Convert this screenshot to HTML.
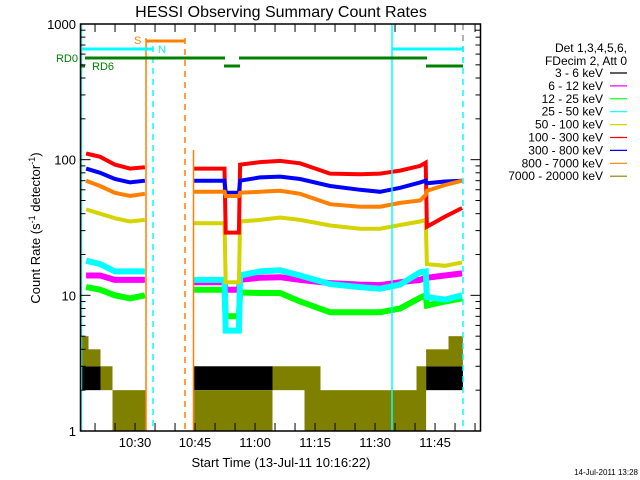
<!DOCTYPE html>
<html><head><meta charset="utf-8"><style>
body{margin:0;background:#fff;width:640px;height:480px;overflow:hidden}
svg{display:block;font-family:"Liberation Sans",sans-serif}
</style></head><body>
<svg id="c" width="640" height="480">
<text x="281" y="17" font-size="16" text-anchor="middle">HESSI Observing Summary Count Rates</text>
<text x="0" y="0" font-size="13" text-anchor="middle" transform="translate(40,228) rotate(-90)">Count Rate (s<tspan dy="-5" font-size="9">-1</tspan><tspan dy="5"> detector</tspan><tspan dy="-5" font-size="9">-1</tspan><tspan dy="5">)</tspan></text>
<text x="281" y="467" font-size="13" text-anchor="middle">Start Time (13-Jul-11 10:16:22)</text>
<text x="638" y="475" font-size="8" text-anchor="end">14-Jul-2011 13:28</text>
<g id="plot"></g>
<g id="legend"></g>
</svg>
<script>
// ---- data (minutes since 10:16:22) ----
const segA_t=[1.4,4.9,8.6,12.4,16.1];
const segB_t=[28.4,36.0,36.3,39.6,39.9,44.9,49.9,54.9,62.4,69.9,74.9,79.9,84.9,86.3,86.6,91.1,95.4];
const seriesNames=["6 - 12 keV","12 - 25 keV","25 - 50 keV","50 - 100 keV","100 - 300 keV","300 - 800 keV","800 - 7000 keV"];
const seriesColors=["#ff00ff","#00ff00","#00ffff","#d4d400","#ff0000","#0000ff","#ff8000"];
const redA=[111,105,92,86,88];
const redB=[86,86,29,29,92,96,98,94,79,78,79,83,90,95,32,38,44];
const blueA=[86,80,72,68,70];
const blueB=[70,70,57,57,70,74,75,72,64,60,58,62,68,70,67,69,70];
const orangeA=[70,64,57,54,56];
const orangeB=[58,58,54,54,57,58,59,56,47,45,45,48,50,55,59,65,70];
const yellowA=[43,40,37,35,36];
const yellowB=[34,34,12.5,12.5,35,36,37.5,36,32.7,31,31,33,35,36,17,16.5,17.5];
const cyanA=[18,17,15,15,15];
const cyanB=[13,13,5.5,5.5,14,15,15.3,14,12.1,11.5,11.2,12,14.8,15,9.7,9.3,10];
const magentaA=[14,14,13,13,13];
const magentaB=[12.5,12.5,11,11,13,13.5,13.6,13,12.3,12,11.9,12.5,13,13.5,13.5,14,14.5];
const greenA=[11.5,11,10,9.5,10];
const greenB=[11,11,7,7,10.5,10.4,10.4,9,7.5,7.5,7.5,8,9.6,10,8.4,9,9.5];
// low-count channels: bin start times and value ranges
const lowT=[0,2,5,8,12,16.4,28.4,32,36,40,44,48,52,56,60,64,68,72,76,80,84,86.4,89,92,95.6];
const blackLo=[2,2,null,null,null,null,2,2,2,2,2,null,null,null,null,null,null,null,null,null,null,2,2,2,null];
const blackHi=[3,3,null,null,null,null,3,3,3,3,3,null,null,null,null,null,null,null,null,null,null,3,3,3,null];
const oliveLo=[3,3,2,1,1,null,1,1,1,1,1,2,2,1,1,1,1,1,1,1,1,3,3,3,null];
const oliveHi=[5,4,3,2,2,null,2,2,2,2,2,3,3,3,2,2,2,2,2,2,3,4,4,5,null];
const xTickLabels=["10:30","10:45","11:00","11:15","11:30","11:45"];
const xTickMin=[13.633,28.633,43.633,58.633,73.633,88.633];
const yTickLabels=["1","10","100","1000"];
const legendLabels=["3 - 6 keV","6 - 12 keV","12 - 25 keV","25 - 50 keV","50 - 100 keV","100 - 300 keV","300 - 800 keV","800 - 7000 keV","7000 - 20000 keV"];
const legendColors=["#000000","#ff00ff","#00ff00","#00ffff","#d4d400","#ff0000","#0000ff","#ff8000","#808000"];

const X0=80.5,X1=480.5,Y0=24,Y1=431;
const xs=m=>X0+m*4;
const ys=v=>Y1-(Math.log10(v))*(Y1-Y0)/3;
const NS="http://www.w3.org/2000/svg";
const plot=document.getElementById('plot');
function mk(tag,attrs,parent){const e=document.createElementNS(NS,tag);for(const k in attrs)e.setAttribute(k,attrs[k]);(parent||plot).appendChild(e);return e;}

// low channels as filled ranges
function lowBars(lo,hi,col,name){
  for(let i=0;i<lo.length-1;i++){
    if(lo[i]==null)continue;
    const r=mk('rect',{x:xs(lowT[i]),y:ys(hi[i]),width:xs(lowT[i+1])-xs(lowT[i]),height:ys(lo[i])-ys(hi[i]),fill:col});
    
    
  }
}
lowBars(blackLo,blackHi,'#000000','series-3-6kev');
lowBars(oliveLo,oliveHi,'#808000','series-7000-20000kev');

// line series
const Aset=[magentaA,greenA,cyanA,yellowA,redA,blueA,orangeA];
const Bset=[magentaB,greenB,cyanB,yellowB,redB,blueB,orangeB];
Aset.forEach((arr,k)=>{
  [[segA_t,arr],[segB_t,Bset[k]]].forEach(([t,v],s)=>{
    let d='';
    for(let i=0;i<t.length;i++)d+=(i?'L':'M')+xs(t[i]).toFixed(1)+' '+ys(v[i]).toFixed(1);
    const p=mk('path',{d:d,fill:'none',stroke:seriesColors[k],'stroke-width':k<3?6:4});
    
    
  });
});

// event lines
function vline(x,col,dash,y0,y1,name){const l=mk('line',{x1:x,x2:x,y1:y0,y2:y1,stroke:col,'stroke-width':1.5});if(dash)l.setAttribute('stroke-dasharray','6,5');}
vline(81.5,'#00ffff',false,Y0,Y1,'night-end-line');
vline(146,'#ff8000',false,38,Y1,'saa-start-line');
vline(153,'#00ffff',true,46,Y1,'night-start-line');
vline(185,'#ff8000',true,38,Y1,'saa-end-line');
vline(193.5,'#ff8000',false,150,Y1,'data-resume-line');
vline(392,'#00ffff',false,Y0,Y1,'night-end-line-2');
vline(463,'#999999',true,Y0,60,'data-end-line');
vline(463,'#00ffff',true,46,Y1,'night-start-line-2');
function hbar(x1,x2,y,col,w,name){const l=mk('line',{x1:x1,x2:x2,y1:y,y2:y,stroke:col,'stroke-width':w});}
hbar(146,185,41,'#ff8000',3,'saa-bar');
hbar(80,153,49,'#00ffff',3,'night-bar');
hbar(392,463,49,'#00ffff',3,'night-bar-2');
hbar(85,225,58,'#008000',3,'rd0-bar');
hbar(239,427,58,'#008000',3,'rd0-bar-2');
hbar(80,85,66,'#008000',3,'rd6-bar');
hbar(224,240,66,'#008000',3,'rd6-bar-2');
hbar(426,463,66,'#008000',3,'rd6-bar-3');
function txt(x,y,s,col,size,anchor,name){const t=mk('text',{x:x,y:y,fill:col,'font-size':size,'text-anchor':anchor||'start'});t.textContent=s;return t;}
txt(134,44,'S','#ff8000',11,'start','saa-label');
txt(158,53,'N','#00ffff',11,'start','night-label');
txt(78,62,'RD0','#008000',11,'end','rd0-label');
txt(92,70,'RD6','#008000',11,'start','rd6-label');

// axes
mk('rect',{x:X0,y:Y0,width:X1-X0,height:Y1-Y0,fill:'none',stroke:'#000','stroke-width':1.5});
for(let m=-10;m<=100;m+=5){const mm=m+3.633;if(mm<0||xs(mm)>X1)continue;
  mk('line',{x1:xs(mm),x2:xs(mm),y1:Y1,y2:Y1-8,stroke:'#000'});
  mk('line',{x1:xs(mm),x2:xs(mm),y1:Y0,y2:Y0+8,stroke:'#000'});}
xTickLabels.forEach((s,i)=>{txt(xs(xTickMin[i]),447,s,'#000',13,'middle','x-tick-label');});
for(let d=0;d<3;d++)for(let k=1;k<10;k++){const y=ys(k*Math.pow(10,d));const L=k==1?10:5;
  mk('line',{x1:X0,x2:X0+L,y1:y,y2:y,stroke:'#000'});mk('line',{x1:X1,x2:X1-L,y1:y,y2:y,stroke:'#000'});}
yTickLabels.forEach((s,i)=>{txt(76,ys(Math.pow(10,i))+5,s,'#000',13,'end','y-tick-label');});

// legend
const lg=document.getElementById('legend');
function ltxt(x,y,s,name){const t=document.createElementNS(NS,'text');t.setAttribute('x',x);t.setAttribute('y',y);t.setAttribute('font-size','12');t.setAttribute('text-anchor','end');t.textContent=s;lg.appendChild(t);}
ltxt(627,52,'Det 1,3,4,5,6,','legend-detectors');
ltxt(627,65,'FDecim 2, Att 0','legend-decimation');
legendLabels.forEach((s,i)=>{const y=73+i*12.9;ltxt(603,y+4,s,'legend-entry');
  const l=document.createElementNS(NS,'line');l.setAttribute('x1',610);l.setAttribute('x2',627);l.setAttribute('y1',y);l.setAttribute('y2',y);l.setAttribute('stroke',legendColors[i]);l.setAttribute('stroke-width','1.2');
  
  
  lg.appendChild(l);});
</script>
</body></html>
